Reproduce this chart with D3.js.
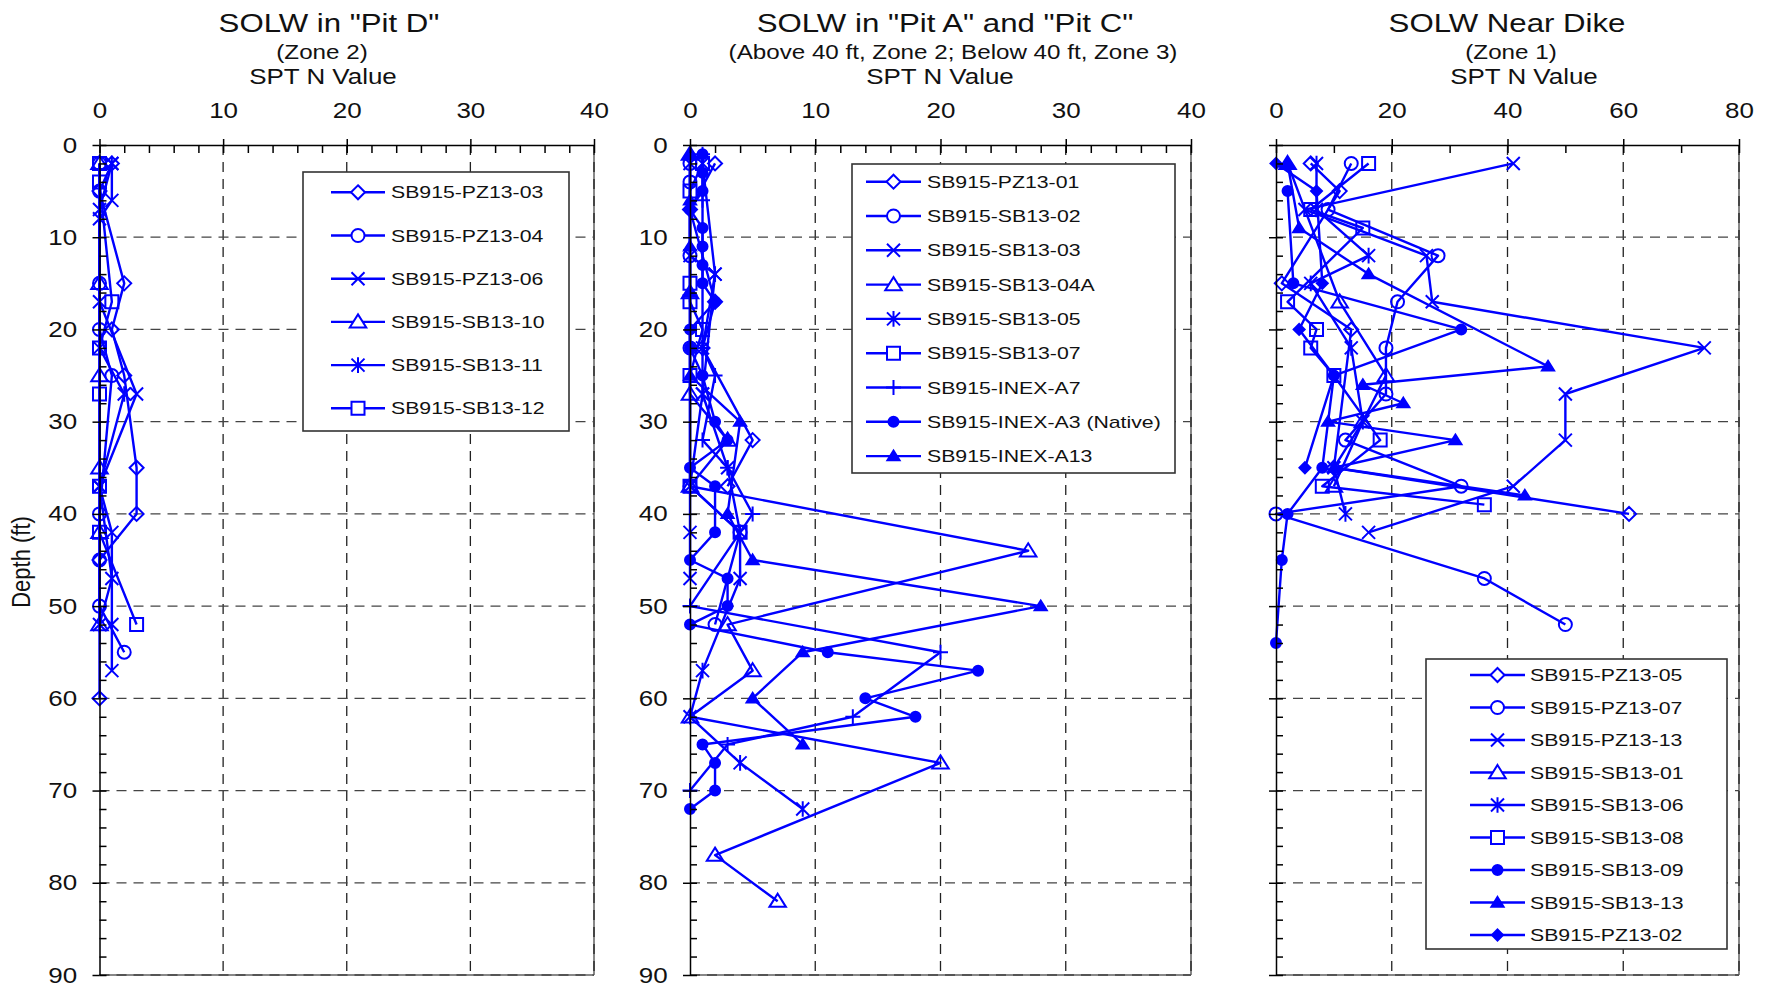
<!DOCTYPE html>
<html>
<head>
<meta charset="utf-8">
<script src="https://cdn.jsdelivr.net/npm/d3@7"></script>
<style>
  body { margin: 0; background: #fff; }
  svg { display: block; font-family: 'Liberation Sans', Arial, sans-serif; }
</style>
</head>
<body>
<svg id="chart" width="1772" height="989"></svg>
<script>
// ---- tick labels ----
const depthTicks = [0, 10, 20, 30, 40, 50, 60, 70, 80, 90];
const xTicks40 = [0, 10, 20, 30, 40];
const xTicks80 = [0, 20, 40, 60, 80];

// ---- SOLW in "Pit D" : [depth ft, SPT N] ----
const pitDNames = ["SB915-PZ13-03", "SB915-PZ13-04", "SB915-PZ13-06", "SB915-SB13-10", "SB915-SB13-11", "SB915-SB13-12"];
const pitDData = [
  [[2,1],[5,0],[15,2],[20,1],[25,2],[35,3],[40,3],[45,0],[60,0]],
  [[2,0],[5,0],[15,0],[20,0],[25,1],[40,0],[45,0],[50,0],[55,2]],
  [[2,1],[6,1],[8,0],[17,0],[27,3],[37,0],[42,1],[52,1],[57,1]],
  [[2,0],[15,0],[25,0],[35,0],[42,0],[52,0]],
  [[2,1],[7,0],[22,0],[27,2],[37,0],[47,1],[52,0]],
  [[2,0],[4,0],[17,1],[22,0],[27,0],[37,0],[42,0],[52,3]]
];

// ---- SOLW in "Pit A" and "Pit C" ----
const pitACNames = ["SB915-PZ13-01", "SB915-SB13-02", "SB915-SB13-03", "SB915-SB13-04A", "SB915-SB13-05", "SB915-SB13-07", "SB915-INEX-A7", "SB915-INEX-A3 (Native)", "SB915-INEX-A13"];
const pitACData = [
  [[2,2],[7,0],[17,2],[22,1],[32,5],[37,3]],
  [[2,0],[4,0],[12,0],[22,0],[37,0],[42,4],[52,2]],
  [[2,0],[12,0],[14,2],[27,1],[37,0],[42,0],[47,0]],
  [[1,0],[16,0],[27,0],[32,3],[37,0],[44,27],[52,3],[57,5],[62,0],[67,20],[77,2],[82,7]],
  [[2,1],[14,2],[22,1],[27,1],[35,3],[42,4],[47,4],[57,1],[62,0],[67,4],[72,9]],
  [[2,1],[5,0],[15,0],[17,0],[20,1],[25,0],[37,0],[42,4]],
  [[1,1],[6,1],[22,1],[25,2],[32,1],[35,3],[40,5],[50,0],[55,20],[62,13],[65,3],[70,0]],
  [[1,1],[3,1],[5,1],[7,0],[9,1],[11,1],[13,1],[15,1],[17,2],[20,0],[22,0],[25,1],[30,2],[32,3],[35,0],[37,2],[42,2],[45,0],[47,3],[50,3],[52,0],[55,11],[57,23],[60,14],[62,18],[65,1],[67,2],[70,2],[72,0]],
  [[1,0],[6,0],[11,0],[16,0],[25,0],[30,4],[40,3],[45,5],[50,28],[55,9],[60,5],[65,9]]
];

// ---- SOLW Near Dike ----
const dikeNames = ["SB915-PZ13-05", "SB915-PZ13-07", "SB915-PZ13-13", "SB915-SB13-01", "SB915-SB13-06", "SB915-SB13-08", "SB915-SB13-09", "SB915-SB13-13", "SB915-PZ13-02"];
const dikeData = [
  [[2,6],[5,11],[15,1],[20,13],[35,10],[40,61]],
  [[2,13],[7,9],[12,28],[17,21],[22,19],[27,19],[32,12],[37,32],[40,0],[47,36],[52,50]],
  [[2,41],[7,5],[12,26],[17,27],[22,74],[27,50],[32,50],[37,41],[42,16]],
  [[2,2],[17,11],[25,19],[30,15],[37,10]],
  [[2,7],[7,7],[12,16],[15,6],[22,13],[30,15],[35,10],[40,12]],
  [[2,16],[7,6],[9,15],[17,2],[20,7],[22,6],[25,10],[32,18],[37,8],[39,36]],
  [[5,2],[15,3],[20,32],[25,10],[35,8],[40,2],[45,1],[54,0]],
  [[2,2],[9,4],[14,16],[24,47],[26,15],[28,22],[30,9],[32,31],[35,10],[38,43]],
  [[2,0],[5,7],[15,8],[20,4],[25,10],[35,5]]
];

// ---- styling ----
const BLUE = "#0000ff";
const SX = 1.18;       // horizontal text stretch of the original
const TOP = 145, BOTTOM = 975;

const markerStyle = {
  diamond:      { r: 7,   fill: "none" },
  circle:       { r: 6.5, fill: "none" },
  x:            { r: 6.5, fill: "none" },
  triangle:     { r: 7.5, fill: "none" },
  asterisk:     { r: 6.5, fill: "none" },
  square:       { r: 6.5, fill: "none" },
  plus:         { r: 7.5, fill: "none" },
  dot:          { r: 5,   fill: BLUE },
  smalltri:     { r: 5.5, fill: BLUE },
  smalldiamond: { r: 5.5, fill: BLUE }
};

function markerPath(shape) {
  const r = markerStyle[shape].r;
  switch (shape) {
    case "diamond": case "smalldiamond":
      return `M0,${-r}L${r},0L0,${r}L${-r},0Z`;
    case "circle": case "dot":
      return `M${r},0A${r},${r} 0 1,1 ${-r},0A${r},${r} 0 1,1 ${r},0Z`;
    case "x":
      return `M${-r},${-r}L${r},${r}M${-r},${r}L${r},${-r}`;
    case "triangle": case "smalltri":
      return `M0,${-r}L${r*1.1},${r*0.75}L${-r*1.1},${r*0.75}Z`;
    case "asterisk":
      return `M${-r},${-r}L${r},${r}M${-r},${r}L${r},${-r}M0,${-r*1.2}L0,${r*1.2}`;
    case "square":
      return `M${-r},${-r}H${r}V${r}H${-r}Z`;
    case "plus":
      return `M${-r},0H${r}M0,${-r}V${r}`;
  }
}

const panels = [
  { x0: 99.5, x1: 594, xMax: 40, xTicks: xTicks40, minorStep: 2, yLabels: true,
    title: 'SOLW in "Pit D"', sub: "(Zone 2)", titleX: 329, subX: 322, axisX: 323,
    names: pitDNames, data: pitDData,
    markers: ["diamond","circle","x","triangle","asterisk","square"],
    legend: { x: 303, y: 172, w: 266, h: 259, row0: 192.3, step: 43.2, l0: 331, l1: 385, tx: 391 } },
  { x0: 690, x1: 1191, xMax: 40, xTicks: xTicks40, minorStep: 2, yLabels: true,
    title: 'SOLW in "Pit A" and "Pit C"', sub: "(Above 40 ft, Zone 2; Below 40 ft, Zone 3)", titleX: 945, subX: 953, axisX: 940,
    names: pitACNames, data: pitACData,
    markers: ["diamond","circle","x","triangle","asterisk","square","plus","dot","smalltri"],
    legend: { x: 852, y: 164, w: 323, h: 309, row0: 181.7, step: 34.3, l0: 866, l1: 921, tx: 927 } },
  { x0: 1276, x1: 1739, xMax: 80, xTicks: xTicks80, minorStep: 10, yLabels: false,
    title: "SOLW Near Dike", sub: "(Zone 1)", titleX: 1507, subX: 1511, axisX: 1524,
    names: dikeNames, data: dikeData,
    markers: ["diamond","circle","x","triangle","asterisk","square","dot","smalltri","smalldiamond"],
    legend: { x: 1426, y: 659, w: 301, h: 290, row0: 675, step: 32.5, l0: 1470, l1: 1525, tx: 1530 } }
];

const svg = d3.select("#chart");
svg.append("rect").attr("width", 1772).attr("height", 989).attr("fill", "#fff");

function stext(g, x, y, str, size, anchor, sx) {
  return g.append("text")
    .attr("transform", `translate(${x},${y}) scale(${sx},1)`)
    .attr("text-anchor", anchor)
    .attr("fill", "#111")
    .style("font-size", size + "px")
    .text(str);
}

function drawPanel(p) {
  const g = svg.append("g");
  const x = d3.scaleLinear().domain([0, p.xMax]).range([p.x0, p.x1]);
  const y = d3.scaleLinear().domain([0, 90]).range([TOP, BOTTOM]);

  // plot frame (right / bottom)
  g.append("line").attr("x1", p.x1).attr("x2", p.x1).attr("y1", TOP).attr("y2", BOTTOM)
    .attr("stroke", "#888").attr("stroke-width", 2);
  g.append("line").attr("x1", p.x0).attr("x2", p.x1).attr("y1", BOTTOM).attr("y2", BOTTOM)
    .attr("stroke", "#888").attr("stroke-width", 2);

  // gridlines
  g.selectAll(".vg").data(p.xTicks.slice(1)).join("line")
    .attr("x1", d => x(d)).attr("x2", d => x(d)).attr("y1", TOP).attr("y2", BOTTOM)
    .attr("stroke", "#222").attr("stroke-width", 1.3).attr("stroke-dasharray", "10,7");
  g.selectAll(".hg").data(depthTicks.slice(1)).join("line")
    .attr("x1", p.x0).attr("x2", p.x1).attr("y1", d => y(d)).attr("y2", d => y(d))
    .attr("stroke", "#444").attr("stroke-width", 1.3).attr("stroke-dasharray", "10,7");

  // series
  const line = d3.line().x(d => x(d[1])).y(d => y(d[0]));
  p.data.forEach((s, i) => {
    const m = p.markers[i];
    g.append("path").datum(s).attr("d", line)
      .attr("fill", "none").attr("stroke", BLUE).attr("stroke-width", 2.4)
      .attr("stroke-linejoin", "round");
    g.append("g").selectAll("path").data(s).join("path")
      .attr("transform", d => `translate(${x(d[1])},${y(d[0])})`)
      .attr("d", markerPath(m))
      .attr("fill", markerStyle[m].fill)
      .attr("stroke", BLUE).attr("stroke-width", 2);
  });

  // top axis: major ticks outward + labels
  const minorX = d3.range(0, p.xMax + 0.001, p.minorStep);
  const ax = g.append("g").attr("transform", `translate(0,${TOP})`)
    .call(d3.axisTop(x).tickValues(p.xTicks).tickSizeInner(6).tickSizeOuter(0).tickPadding(21));
  g.append("g").attr("transform", `translate(0,${TOP})`)
    .call(d3.axisTop(x).tickValues(minorX).tickSize(-8).tickFormat(""))
    .call(a => a.select(".domain").remove());
  ax.selectAll("text").attr("transform", `scale(${SX},1)`).style("font-size", "22px").attr("fill", "#111");

  // left axis
  const minorY = d3.range(0, 90.001, 2);
  const ay = g.append("g").attr("transform", `translate(${p.x0},0)`)
    .call(d3.axisLeft(y).tickValues(depthTicks).tickSizeInner(7).tickSizeOuter(0).tickPadding(12)
      .tickFormat(p.yLabels ? d3.format("d") : ""));
  g.append("g").attr("transform", `translate(${p.x0},0)`)
    .call(d3.axisLeft(y).tickValues(minorY).tickSize(-7).tickFormat(""))
    .call(a => a.select(".domain").remove());
  ay.selectAll("text").attr("transform", `scale(${SX},1)`).style("font-size", "22px").attr("fill", "#111");

  g.selectAll(".domain, .tick line").attr("stroke", "#000").attr("stroke-width", 1.5);

  // titles
  stext(g, p.titleX, 31.5, p.title, 26, "middle", 1.2);
  stext(g, p.subX, 59, p.sub, 20.5, "middle", SX);
  stext(g, p.axisX, 84, "SPT N Value", 22, "middle", SX);

  // legend
  const L = p.legend;
  const lg = g.append("g");
  lg.append("rect").attr("x", L.x).attr("y", L.y).attr("width", L.w).attr("height", L.h)
    .attr("fill", "#fff").attr("stroke", "#333").attr("stroke-width", 1.6);
  p.names.forEach((name, i) => {
    const cy = L.row0 + i * L.step;
    const m = p.markers[i];
    lg.append("line").attr("x1", L.l0).attr("x2", L.l1).attr("y1", cy).attr("y2", cy)
      .attr("stroke", BLUE).attr("stroke-width", 2.4);
    lg.append("path").attr("transform", `translate(${(L.l0 + L.l1) / 2},${cy})`)
      .attr("d", markerPath(m)).attr("fill", markerStyle[m].fill === "none" ? "#fff" : BLUE)
      .attr("stroke", BLUE).attr("stroke-width", 2);
    stext(lg, L.tx, cy + 6, name, 17, "start", 1.25);
  });
}

panels.forEach(drawPanel);

// y axis title
svg.append("text")
  .attr("transform", "translate(30,562) rotate(-90) scale(1,1.15)")
  .attr("text-anchor", "middle").attr("fill", "#111")
  .style("font-size", "22px")
  .text("Depth (ft)");
</script>
</body>
</html>
